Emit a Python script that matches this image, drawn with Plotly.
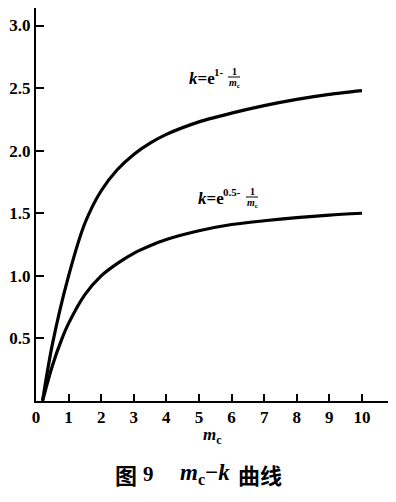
import plotly.graph_objects as go

# Data
mc_upper = [0.2, 0.5, 1.0, 1.5, 2.0, 2.5, 3.0, 3.5, 4.0, 5.0, 6.0, 7.0, 8.0, 9.0, 10.0]
k_upper = [0.0, 0.45, 1.0, 1.42, 1.68, 1.85, 1.97, 2.06, 2.13, 2.23, 2.30, 2.36, 2.41, 2.45, 2.48]

mc_lower = [0.2, 0.5, 0.8, 1.0, 1.5, 2.0, 2.5, 3.0, 3.5, 4.0, 5.0, 6.0, 7.0, 8.0, 9.0, 10.0]
k_lower = [0.0, 0.28, 0.50, 0.62, 0.85, 1.0, 1.10, 1.18, 1.24, 1.29, 1.36, 1.41, 1.44, 1.465, 1.485, 1.50]

x_ticks = [0, 1, 2, 3, 4, 5, 6, 7, 8, 9, 10]
y_ticks = [0.5, 1.0, 1.5, 2.0, 2.5, 3.0]
y_tick_labels = ["0.5", "1.0", "1.5", "2.0", "2.5", "3.0"]

SERIF = "Liberation Serif, Noto Sans CJK SC"

L, R, T, B = 36, 8, 8, 101
W, H = 396, 502
PW, PH = W - L - R, H - T - B

fig = go.Figure()
fig.add_trace(go.Scatter(x=mc_upper, y=k_upper, mode="lines",
                         line=dict(color="black", width=3.2, shape="spline", smoothing=0.8),
                         showlegend=False, hoverinfo="skip"))
fig.add_trace(go.Scatter(x=mc_lower, y=k_lower, mode="lines",
                         line=dict(color="black", width=3.2, shape="spline", smoothing=0.8),
                         showlegend=False, hoverinfo="skip"))

# pixel -> paper helpers for text placement
def px_(px):
    return (px - L) / PW

def py_(py):
    return (H - B - py) / PH

ann = []
lab_font = dict(family=SERIF, size=17, color="black", weight="bold")
sup_font = dict(family=SERIF, size=11, color="black", weight="bold")
small_font = dict(family=SERIF, size=10, color="black", weight="bold")

def add(x, y, text, font, xanchor="left"):
    ann.append(dict(x=px_(x), y=py_(y), xref="paper", yref="paper", xanchor=xanchor,
                    yanchor="middle", text=text, font=font, showarrow=False))

# upper label: k=e^{1-1/mc}
add(187, 78, "<i>k</i>=e", lab_font)
add(212, 72, "1-", sup_font)
add(234, 71, "1", small_font, "center")
add(234, 83, "<i>m</i><sub>c</sub>", small_font, "center")

# lower label: k=e^{0.5-1/mc}
add(196, 199, "<i>k</i>=e", lab_font)
add(221, 192, "0.5-", sup_font)
add(252, 191, "1", small_font, "center")
add(252, 203, "<i>m</i><sub>c</sub>", small_font, "center")

# x-axis title
add(212, 436, "<i>m</i><sub>c</sub>", dict(family=SERIF, size=17, color="black", weight="bold"), "center")

# caption
cap_font = dict(family=SERIF, size=21, color="black", weight="bold")
cap_font2 = dict(family=SERIF, size=23, color="black", weight="bold")
cjk_font = dict(family="Noto Sans CJK SC", size=22, color="black", weight="bold")
add(113, 474, "图", cjk_font)
add(141, 474, "9", cap_font)
add(178, 474, "<i>m</i><sub>c</sub>−<i>k</i>", cap_font2)
add(236, 474, "曲线", cjk_font)

shapes = [
    dict(type="line", xref="paper", yref="paper", x0=px_(228), x1=px_(240), y0=py_(77), y1=py_(77),
         line=dict(color="black", width=1)),
    dict(type="line", xref="paper", yref="paper", x0=px_(246), x1=px_(258), y0=py_(197), y1=py_(197),
         line=dict(color="black", width=1)),
]

fig.update_layout(
    width=W, height=H,
    margin=dict(l=L, r=R, t=T, b=B, autoexpand=False),
    paper_bgcolor="white", plot_bgcolor="white",
    annotations=ann, shapes=shapes,
    xaxis=dict(range=[0, 10.8], tickvals=x_ticks, ticktext=[str(v) for v in x_ticks],
               ticks="inside", ticklen=7, tickwidth=2, tickcolor="black",
               showline=True, linecolor="black", linewidth=2, automargin=False,
               showgrid=False, zeroline=False,
               tickfont=dict(family=SERIF, size=17, color="black", weight="bold")),
    yaxis=dict(range=[0, 3.14], tickvals=y_ticks, ticktext=y_tick_labels,
               ticks="inside", ticklen=8, tickwidth=2, tickcolor="black",
               showline=True, linecolor="black", linewidth=2, automargin=False,
               showgrid=False, zeroline=False,
               tickfont=dict(family=SERIF, size=17, color="black", weight="bold")),
)

fig.write_html("out.html", config={"displayModeBar": False},
               post_script="document.body.style.margin='0';document.body.style.overflow='hidden';")
